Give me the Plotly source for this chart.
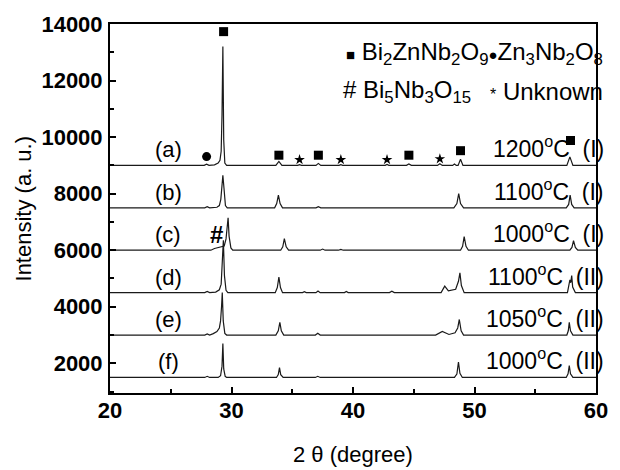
import plotly.graph_objects as go

# ---------------- data ----------------
# 2-theta (deg) / intensity above each pattern's baseline (a.u.)
tt_a = [20, 27.75, 27.95, 28.15, 28.6, 28.9, 29.05, 29.15, 29.22, 29.29, 29.36, 29.45, 29.6,
        33.65, 33.9, 34.15, 35.45, 35.6, 35.75, 36.95, 37.15, 37.35, 38.85, 39.0, 39.15,
        42.65, 42.8, 42.95, 44.4, 44.6, 44.8, 46.95, 47.15, 47.35, 48.2, 48.35, 48.5,
        48.65, 48.85, 49.05, 57.6, 57.85, 58.1, 60]
int_a = [0, 0, 40, 0, 20, 80, 180, 500, 1800, 4200, 900, 80, 0,
         0, 140, 0, 0, 25, 0, 0, 70, 0, 0, 25, 0,
         0, 30, 0, 0, 50, 0, 0, 60, 0, 0, 50, 0,
         0, 220, 0, 0, 300, 0, 0]

tt_b = [20, 27.8, 28.0, 28.2, 28.8, 29.0, 29.12, 29.22, 29.29, 29.38, 29.5, 29.65,
        33.55, 33.72, 33.86, 34.0, 34.2, 36.95, 37.15, 37.35, 48.3, 48.55, 48.7, 48.85, 49.1,
        57.55, 57.75, 57.87, 58.0, 58.2, 60]
int_b = [0, 0, 40, 0, 20, 80, 300, 900, 1150, 700, 80, 0,
         0, 150, 450, 150, 0, 0, 40, 0, 0, 150, 500, 150, 0,
         0, 120, 450, 120, 0, 0]

tt_c = [20, 28.3, 28.6, 28.9, 29.2, 29.4, 29.55, 29.65, 29.72, 29.8, 29.95, 30.1,
        34.05, 34.22, 34.35, 34.5, 34.7, 37.3, 37.5, 37.7, 38.8, 39.0, 39.2,
        48.85, 49.02, 49.15, 49.3, 49.5, 57.85, 58.02, 58.15, 58.3, 58.5, 60]
int_c = [0, 0, 60, 100, 120, 150, 400, 900, 1150, 500, 80, 0,
         0, 120, 410, 120, 0, 0, 40, 0, 0, 30, 0,
         0, 140, 480, 140, 0, 0, 100, 340, 100, 0, 0]

tt_d = [20, 27.8, 28.0, 28.2, 28.7, 29.0, 29.15, 29.25, 29.33, 29.42, 29.55, 29.7,
        33.6, 33.77, 33.9, 34.03, 34.2, 35.85, 36.0, 36.15, 36.95, 37.12, 37.3,
        39.3, 39.45, 39.6, 43.0, 43.2, 43.4, 47.25, 47.55, 47.85, 48.45, 48.68, 48.8,
        48.92, 49.15, 57.65, 57.85, 57.92, 58.0, 58.08, 58.3, 60]
int_d = [0, 0, 40, 0, 20, 100, 300, 1000, 1850, 600, 80, 0,
         0, 180, 550, 180, 0, 0, 30, 0, 0, 60, 0,
         0, 40, 0, 0, 50, 0, 0, 230, 60, 120, 400, 700,
         250, 0, 0, 450, 350, 600, 200, 0, 0]

tt_e = [20, 27.8, 28.0, 28.2, 28.5, 28.8, 29.0, 29.1, 29.18, 29.24, 29.32, 29.45, 29.6,
        33.65, 33.85, 33.98, 34.1, 34.3, 36.9, 37.1, 37.3, 39.25, 39.4, 39.55,
        46.8, 47.35, 47.9, 48.4, 48.62, 48.75, 48.9, 49.1,
        57.6, 57.72, 57.8, 57.9, 58.1, 60]
int_e = [0, 0, 40, 0, 50, 120, 250, 500, 1000, 1500, 500, 60, 0,
         0, 150, 450, 150, 0, 0, 60, 0, 0, 20, 0,
         0, 130, 20, 80, 250, 550, 150, 0,
         0, 150, 450, 150, 0, 0]

tt_f = [20, 27.8, 28.0, 28.2, 28.9, 29.1, 29.22, 29.29, 29.36, 29.48, 29.6,
        33.7, 33.85, 33.95, 34.05, 34.25, 36.9, 37.1, 37.3,
        48.35, 48.55, 48.68, 48.8, 49.0, 57.55, 57.7, 57.8, 57.9, 58.1, 60]
int_f = [0, 0, 40, 0, 0, 60, 400, 1200, 300, 40, 0,
         0, 100, 350, 100, 0, 0, 40, 0,
         0, 120, 540, 150, 0, 0, 130, 420, 130, 0, 0]

offsets = [9000, 7500, 6000, 4500, 3000, 1500]
sample_labels = ["(a)", "(b)", "(c)", "(d)", "(e)", "(f)"]
temps = ["1200", "1100", "1000", "1100", "1050", "1000"]
routes = ["I", "I", "I", "II", "II", "II"]

# phase markers on pattern (a)
bzn_x = [29.35, 33.9, 37.15, 44.6, 48.85, 57.9]
bzn_y = [13730, 9360, 9360, 9360, 9520, 9880]
zn_x = [27.95]
zn_y = [9310]
unk_x = [35.6, 39.0, 42.8, 47.15]
unk_y = [9200, 9200, 9200, 9230]
bi5_x = [28.75]
bi5_y = [6560]

# ---------------- figure ----------------
fig = go.Figure()
series = [(tt_a, int_a), (tt_b, int_b), (tt_c, int_c),
          (tt_d, int_d), (tt_e, int_e), (tt_f, int_f)]
for (xs, ys), off in zip(series, offsets):
    fig.add_trace(go.Scatter(x=xs, y=[v + off for v in ys], mode="lines",
                             line=dict(color="#1a1a1a", width=1.2),
                             showlegend=False, hoverinfo="skip"))

fig.add_trace(go.Scatter(x=bzn_x, y=bzn_y, mode="markers",
                         marker=dict(symbol="square", size=9, color="black"),
                         showlegend=False))
fig.add_trace(go.Scatter(x=zn_x, y=zn_y, mode="markers",
                         marker=dict(symbol="circle", size=9, color="black"),
                         showlegend=False))
fig.add_trace(go.Scatter(x=unk_x, y=unk_y, mode="markers",
                         marker=dict(symbol="star", size=8, color="black"),
                         showlegend=False))

FONT = "Arial, Liberation Sans, sans-serif"
ann = []
for lab, tmp, rt, off in zip(sample_labels, temps, routes, offsets):
    ann.append(dict(x=24.8, y=off, xref="x", yref="y", text=lab, showarrow=False,
                    xanchor="center", yanchor="bottom", borderpad=0, yshift=2,
                    font=dict(family=FONT, size=22, color="black")))
    ann.append(dict(x=60, y=off, xref="x", yref="y",
                    text=f"{tmp}<sup>o</sup>C&nbsp; ({rt})", showarrow=False,
                    xanchor="right", yanchor="bottom", borderpad=0, xshift=9, yshift=2,
                    font=dict(family=FONT, size=23, color="black")))

ann.append(dict(x=bi5_x[0], y=bi5_y[0], xref="x", yref="y", text="<b>#</b>",
                showarrow=False, font=dict(family=FONT, size=24, color="black")))

# phase key
ann.append(dict(x=1.0, y=12950, xref="paper", yref="y", xanchor="right", yanchor="middle",
                showarrow=False, xshift=9,
                text='<span style="font-size:15px">■</span> Bi<sub>2</sub>ZnNb<sub>2</sub>O<sub>9</sub>'
                     '<span style="font-size:15px">●</span>Zn<sub>3</sub>Nb<sub>2</sub>O<sub>8</sub>',
                font=dict(family=FONT, size=24, color="black")))
ann.append(dict(x=49.9, y=11620, xref="x", yref="y", xanchor="right", yanchor="middle",
                showarrow=False,
                text="# Bi<sub>5</sub>Nb<sub>3</sub>O<sub>15</sub>",
                font=dict(family=FONT, size=24, color="black")))
ann.append(dict(x=1.0, y=11620, xref="paper", yref="y", xanchor="right", yanchor="middle",
                showarrow=False, xshift=9,
                text='<span style="font-size:16px">*</span> Unknown',
                font=dict(family=FONT, size=24, color="black")))

# axis titles
ann.append(dict(x=-0.177, y=0.5, xref="paper", yref="paper", text="Intensity (a. u.)",
                textangle=-90, showarrow=False, xanchor="center", yanchor="middle",
                font=dict(family=FONT, size=22, color="black")))
ann.append(dict(x=0.5, y=-0.168, xref="paper", yref="paper", text="2 θ (degree)",
                showarrow=False, xanchor="center", yanchor="middle",
                font=dict(family=FONT, size=22, color="black")))

axis_common = dict(showline=True, linecolor="black", linewidth=2, mirror=True,
                   ticks="inside", tickcolor="black", tickwidth=1.5, ticklen=6,
                   showgrid=False, zeroline=False, tickformat="d",
                   tickfont=dict(family=FONT, size=22, color="black", weight="bold"))

fig.update_layout(
    width=620, height=470,
    margin=dict(l=110, r=12, t=19, b=77),
    paper_bgcolor="white", plot_bgcolor="white",
    xaxis=dict(range=[20, 60], tick0=20, dtick=10,
               minor=dict(dtick=5, ticks="inside", ticklen=4, tickcolor="black", tickwidth=1.5),
               ticklabelstandoff=-3, **axis_common),
    yaxis=dict(range=[950, 14000], tick0=0, dtick=2000,
               minor=dict(dtick=1000, ticks="inside", ticklen=4, tickcolor="black", tickwidth=1.5),
               ticklabelstandoff=1, **axis_common),
    annotations=ann,
)

fig.write_html("out.html")
